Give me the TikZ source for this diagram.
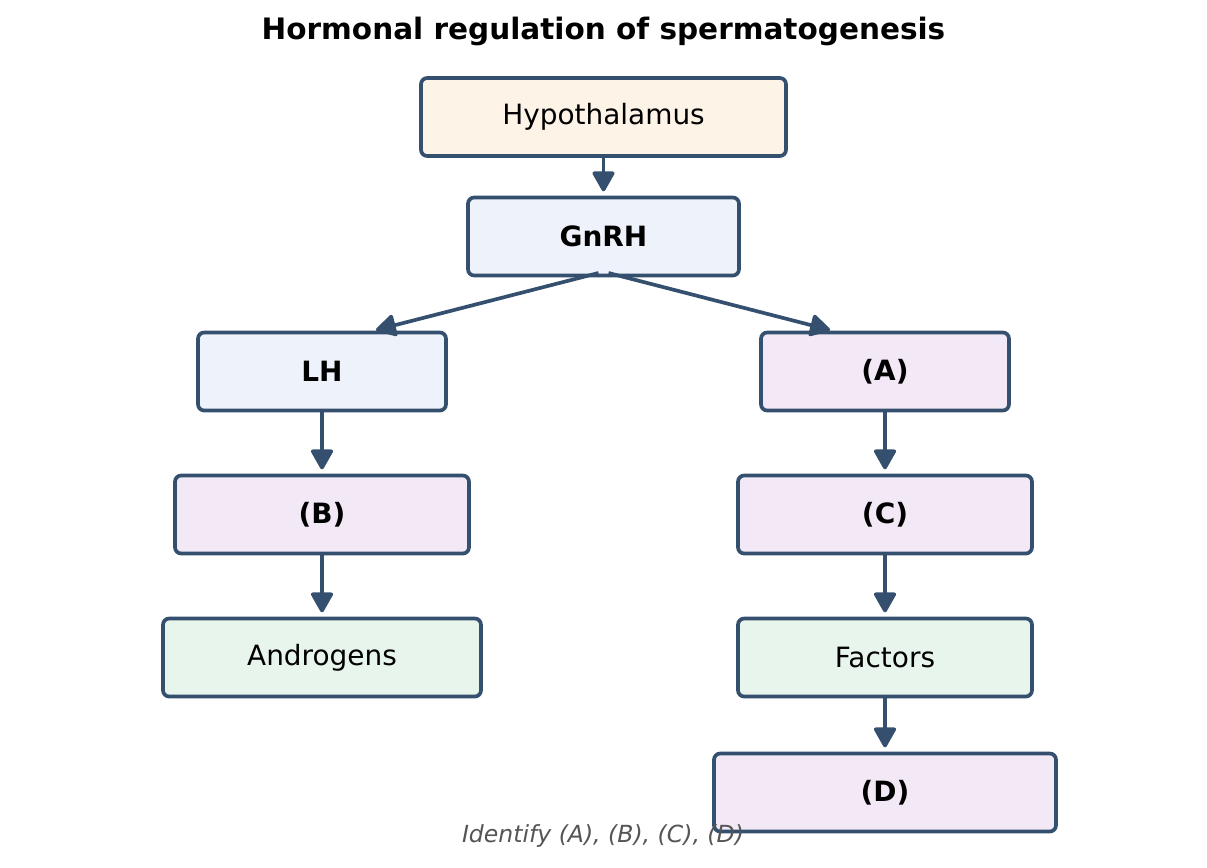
\documentclass[tikz,border=0pt]{standalone}
\usepackage{fontspec}
\setmainfont{DejaVu Sans}
\usetikzlibrary{arrows.meta,positioning}
\definecolor{Edge}{HTML}{34506E}
\definecolor{Peach}{HTML}{FDF3E7}
\definecolor{Ice}{HTML}{EEF2FA}
\definecolor{Lilac}{HTML}{F3E9F6}
\definecolor{Mint}{HTML}{E8F5EC}
\definecolor{Slate}{HTML}{555555}
\tikzset{
  organ/.style={draw=Edge,line width=2.1pt,rounded corners=3.5pt,outer sep=0pt,
    minimum height=1.56cm,minimum width=#1,font=\fontsize{15.9}{19}\selectfont},
  flow/.style={draw=Edge,line width=2.1pt,-{Triangle[length=12.5pt,width=13.5pt,round]},shorten >=3.5pt}
}

\begin{document}
\begin{tikzpicture}[x=0.02cm,y=-0.02cm]
        \useasboundingbox (0,0) rectangle (1207,867);
        \node[font=\fontsize{16.8}{20}\selectfont\bfseries] (title) at (603.5,31) {Hormonal regulation of spermatogenesis};
        % hypothalamus and releasing hormone
        \node[organ=7.3cm,fill=Peach] (hyp) at (603.5,117) {Hypothalamus};
        \node[organ=5.42cm,fill=Ice] (gnrh) at (603.5,236.5) {\bfseries GnRH};
        % left branch
        \node[organ=4.96cm,fill=Ice] (lh) at (322,371.5) {\bfseries LH};
        \node[organ=5.88cm,fill=Lilac] (b) at (322,514.5) {\bfseries (B)};
        \node[organ=6.36cm,fill=Mint] (andro) at (322,657.5) {Androgens};
        % right branch
        \node[organ=4.96cm,fill=Lilac] (a) at (885,371.5) {\bfseries (A)};
        \node[organ=5.88cm,fill=Lilac] (c) at (885,514.5) {\bfseries (C)};
        \node[organ=5.88cm,fill=Mint] (fact) at (885,657.5) {Factors};
        \node[organ=6.84cm,fill=Lilac] (d) at (885,792.5) {\bfseries (D)};
        \draw[flow] (hyp.south) -- (gnrh.north);
        \draw[flow,shorten >=0pt] ([xshift=-0.1cm,yshift=0.05cm]gnrh.south) -- ([xshift=1.08cm,yshift=0.05cm]lh.north);
        \draw[flow,shorten >=0pt] ([xshift=0.1cm,yshift=0.05cm]gnrh.south) -- ([xshift=-1.1cm,yshift=0.05cm]a.north);
        \draw[flow] (lh.south) -- (b.north);
        \draw[flow] (b.south) -- (andro.north);
        \draw[flow] (a.south) -- (c.north);
        \draw[flow] (c.south) -- (fact.north);
        \draw[flow] (fact.south) -- (d.north);
        \node[text=Slate,font=\fontsize{13.4}{16}\selectfont\itshape] (note) at (603,836) {Identify (A), (B), (C), (D)};
      \end{tikzpicture}
\end{document}
